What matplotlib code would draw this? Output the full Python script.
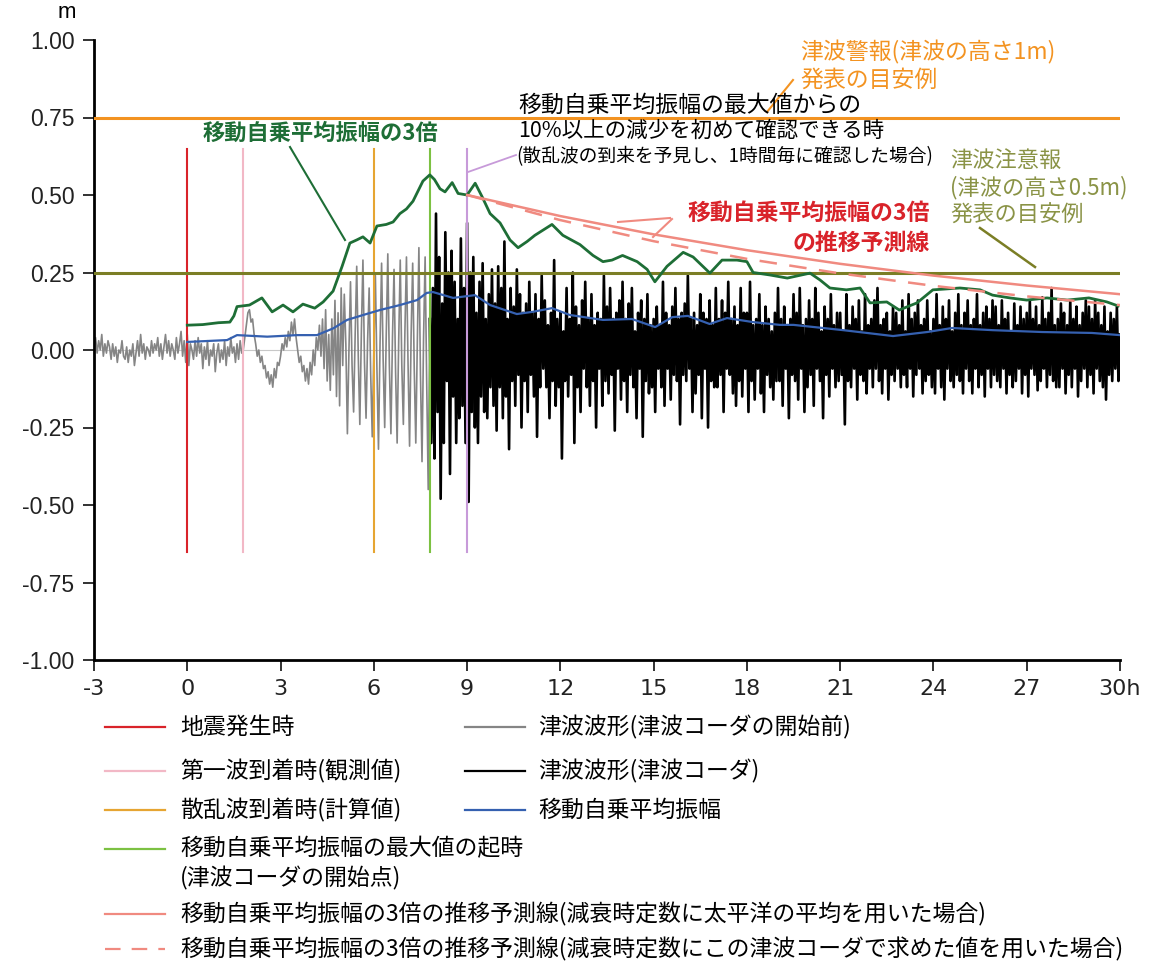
import numpy as np
import matplotlib
matplotlib.use("Agg")
import matplotlib.pyplot as plt
from matplotlib.lines import Line2D

plt.rcParams['font.family'] = ['Noto Sans CJK JP', 'DejaVu Sans']

# event times (h)
quake_t = 0.0
first_wave_t = 1.8
scatter_t = 6.0
max_t = 7.8
check_t = 9.0

# tsunami waveform before coda (every 0.05 h from -3 to 7.8)
gray_start, gray_step = -3.0, 0.05
gray_v = [
    0.02, 0.04, -0.01, 0.03, 0.0, 0.05, -0.02, 0.02, -0.01, 0.03, 0.01, -0.03, 0.02, -0.02, 0.01, -0.04, 0.0, -0.01, 0.03, -0.02,
    -0.03, 0.01, -0.04, 0.0, -0.02, 0.02, -0.05, -0.01, 0.03, -0.02, 0.05, -0.01, 0.02, -0.03, 0.01, 0.0, -0.02, 0.03, -0.01, 0.02,
    0.0, 0.04, -0.02, 0.02, -0.03, 0.01, 0.05, -0.01, 0.03, -0.02, 0.02, 0.0, -0.03, 0.04, -0.01, 0.02, 0.06, -0.02, 0.03, -0.04,
    0.05, -0.05, 0.02, 0.0, -0.03, 0.03, -0.02, 0.04, -0.01, 0.02, -0.06, 0.01, -0.03, 0.03, -0.05, 0.0, -0.02, 0.02, -0.07, -0.01,
    0.02, -0.04, 0.0, -0.03, 0.03, -0.05, 0.01, -0.02, 0.04, -0.01, 0.01, -0.04, 0.02, -0.03, 0.03, -0.01, 0.0, 0.04, 0.08, 0.12,
    0.13, 0.09, 0.1, 0.05, 0.02, -0.02, 0.0, -0.04, -0.02, -0.06, -0.05, -0.09, -0.07, -0.11, -0.08, -0.12, -0.06, -0.09, -0.04, -0.05,
    -0.02, 0.02, 0.0, 0.04, 0.01, 0.06, 0.03, 0.09, 0.05, 0.1, 0.04, 0.0, -0.04, -0.02, -0.07, -0.05, -0.1, -0.06, -0.11, -0.04,
    -0.08, 0.0, -0.05, 0.04, 0.0, 0.08, -0.02, 0.1, -0.06, 0.13, -0.1, 0.05, -0.13, 0.1, -0.08, 0.16, -0.15, 0.12, -0.18, 0.2,
    -0.05, 0.18, 0.02, -0.27, 0.0, 0.22, -0.05, -0.2, 0.05, 0.27, -0.02, -0.24, 0.06, 0.29, -0.04, -0.22, 0.03, 0.2, -0.08, -0.28,
    0.0, 0.24, -0.06, -0.32, 0.02, 0.28, -0.03, -0.25, 0.05, 0.31, -0.05, -0.27, 0.04, 0.26, -0.07, -0.3, 0.03, 0.29, -0.05, -0.24,
    0.06, 0.3, -0.04, -0.31, 0.05, 0.28, -0.06, -0.3, 0.03, 0.33, -0.08, -0.36, 0.04, 0.3, -0.1, -0.45, 0.1,
]

# tsunami coda waveform (every 0.05 h from 7.8 to 30)
black_start, black_step = 7.8, 0.05
black_v = [
    0.1, -0.3, 0.2, -0.35,
    0.44, -0.2, 0.3, -0.48, 0.15, -0.3, 0.38, -0.1, 0.25, -0.4, 0.32, -0.15, 0.22, -0.3, 0.1, -0.22, 0.36, -0.18, 0.2, -0.3,
    0.41, -0.49, 0.25, -0.2, 0.3, -0.25, 0.12, -0.3, 0.22, -0.15, 0.28, -0.2, 0.1, -0.22, 0.18, -0.12, 0.26, -0.18, 0.15, -0.26,
    0.27, -0.12, 0.2, -0.22, 0.35, -0.15, 0.1, -0.32, 0.2, -0.1, 0.14, -0.18, 0.26, -0.08, 0.18, -0.25, 0.12, -0.1, 0.15, -0.2,
    0.22, -0.08, 0.12, -0.15, 0.18, -0.28, 0.1, -0.12, 0.24, -0.06, 0.16, -0.12, 0.08, -0.22, 0.12, -0.1, 0.29, -0.18, 0.1, -0.12,
    0.12, -0.35, 0.06, -0.1, 0.2, -0.15, 0.1, -0.08, 0.25, -0.3, 0.14, -0.12, 0.08, -0.2, 0.16, -0.06, 0.22, -0.12, 0.1, -0.18,
    0.18, -0.1, 0.08, -0.25, 0.12, -0.06, 0.1, -0.18, 0.24, -0.1, 0.14, -0.14, 0.2, -0.08, 0.1, -0.26, 0.12, -0.06, 0.16, -0.16,
    0.22, -0.1, 0.1, -0.2, 0.15, -0.08, 0.2, -0.12, 0.06, -0.22, 0.12, -0.06, 0.16, -0.28, 0.1, -0.1, 0.18, -0.14, 0.08, -0.12,
    0.1, -0.2, 0.14, -0.06, 0.08, -0.12, 0.22, -0.18, 0.12, -0.06, 0.08, -0.16, 0.14, -0.08, 0.2, -0.1, 0.1, -0.24, 0.12, -0.08,
    0.15, -0.1, 0.24, -0.06, 0.1, -0.2, 0.12, -0.14, 0.08, -0.08, 0.18, -0.22, 0.12, -0.06, 0.1, -0.25, 0.16, -0.1, 0.08, -0.12,
    0.2, -0.12, 0.1, -0.08, 0.16, -0.2, 0.12, -0.06, 0.22, -0.08, 0.1, -0.14, 0.14, -0.18, 0.08, -0.1, 0.2, -0.15, 0.12, -0.06,
    0.12, -0.2, 0.22, -0.1, 0.08, -0.16, 0.1, -0.06, 0.18, -0.14, 0.08, -0.2, 0.14, -0.08, 0.1, -0.12, 0.06, -0.16, 0.12, -0.1,
    0.2, -0.1, 0.1, -0.18, 0.14, -0.06, 0.08, -0.22, 0.1, -0.08, 0.18, -0.1, 0.12, -0.16, 0.2, -0.06, 0.08, -0.2, 0.1, -0.12,
    0.16, -0.08, 0.1, -0.18, 0.2, -0.06, 0.12, -0.1, 0.06, -0.22, 0.14, -0.08, 0.1, -0.15, 0.18, -0.06, 0.08, -0.12, 0.12, -0.1,
    0.12, -0.08, 0.06, -0.24, 0.18, -0.1, 0.08, -0.12, 0.14, -0.06, 0.1, -0.16, 0.16, -0.08, 0.06, -0.1, 0.18, -0.14, 0.08, -0.06,
    0.1, -0.12, 0.16, -0.06, 0.2, -0.1, 0.08, -0.14, 0.1, -0.06, 0.12, -0.16, 0.06, -0.08, 0.14, -0.1, 0.12, -0.06, 0.08, -0.12,
    0.16, -0.08, 0.06, -0.12, 0.18, -0.06, 0.1, -0.15, 0.12, -0.08, 0.16, -0.06, 0.08, -0.14, 0.1, -0.1, 0.16, -0.08, 0.06, -0.12,
    0.1, -0.14, 0.18, -0.06, 0.08, -0.12, 0.14, -0.16, 0.1, -0.06, 0.16, -0.1, 0.06, -0.12, 0.12, -0.08, 0.18, -0.1, 0.08, -0.14,
    0.12, -0.06, 0.16, -0.1, 0.08, -0.14, 0.1, -0.06, 0.18, -0.12, 0.08, -0.08, 0.12, -0.15, 0.14, -0.06, 0.1, -0.12, 0.16, -0.08,
    0.14, -0.1, 0.08, -0.12, 0.16, -0.06, 0.1, -0.14, 0.12, -0.08, 0.06, -0.12, 0.15, -0.1, 0.08, -0.06, 0.14, -0.14, 0.1, -0.08,
    0.12, -0.15, 0.16, -0.06, 0.1, -0.08, 0.14, -0.13, 0.08, -0.1, 0.17, -0.06, 0.1, -0.12, 0.12, -0.08, 0.2, -0.1, 0.08, -0.12,
    0.1, -0.12, 0.15, -0.06, 0.12, -0.14, 0.08, -0.08, 0.16, -0.12, 0.1, -0.06, 0.14, -0.15, 0.08, -0.1, 0.12, -0.06, 0.16, -0.12,
    0.14, -0.08, 0.1, -0.14, 0.16, -0.06, 0.12, -0.1, 0.08, -0.12, 0.14, -0.16, 0.06, -0.08, 0.12, -0.1, 0.1, -0.06, 0.14, -0.1,
    0.05,
]

# moving root-mean-square amplitude
blue_t = [0.0, 1.28, 1.6, 2.57, 3.53, 4.17, 4.7, 5.14, 5.66, 6.2, 6.84, 7.39, 7.7, 7.9,
          8.55, 9.25, 9.74, 10.6, 11.1, 11.73, 12.3, 13.37, 14.3, 15.05, 15.6, 16.1, 16.8,
          17.36, 18.2, 19.06, 19.5, 21.1, 22.7, 23.8, 24.6, 25.9, 27.5, 29.1, 30.0]
blue_v = [0.026, 0.032, 0.048, 0.043, 0.048, 0.048, 0.07, 0.097, 0.113, 0.129, 0.145, 0.161, 0.184, 0.187,
          0.168, 0.177, 0.145, 0.116, 0.123, 0.135, 0.113, 0.097, 0.1, 0.074, 0.106, 0.11, 0.084,
          0.103, 0.09, 0.081, 0.081, 0.064, 0.045, 0.058, 0.071, 0.064, 0.058, 0.055, 0.048]

# 3x moving amplitude
green_t = [0.0, 0.5, 1.0, 1.37, 1.5, 1.6, 2.0, 2.4, 2.73, 3.08, 3.4, 3.72, 4.1, 4.37, 4.69, 4.98,
           5.23, 5.45, 5.65, 5.88, 6.1, 6.4, 6.62, 6.84, 7.05, 7.26, 7.58, 7.8, 7.95, 8.13, 8.29,
           8.52, 8.71, 9.0, 9.26, 9.48, 9.74, 10.06, 10.38, 10.64, 10.93, 11.18, 11.73, 12.08,
           12.63, 13.05, 13.37, 13.66, 14.0, 14.47, 14.79, 15.04, 15.43, 15.95, 16.27, 16.81,
           17.2, 17.68, 18.0, 18.2, 18.74, 19.3, 20.03, 20.35, 20.67, 21.2, 21.64, 21.96, 22.5,
           22.9, 23.47, 23.98, 24.85, 25.5, 25.9, 26.46, 27.0, 27.65, 28.3, 29.0, 29.58, 29.94]
green_v = [0.08, 0.082, 0.088, 0.09, 0.11, 0.14, 0.145, 0.168, 0.123, 0.145, 0.123, 0.148, 0.135, 0.155, 0.19, 0.27,
           0.345, 0.355, 0.365, 0.345, 0.40, 0.405, 0.413, 0.44, 0.455, 0.48, 0.545, 0.565, 0.55, 0.52, 0.51,
           0.54, 0.505, 0.50, 0.538, 0.495, 0.44, 0.41, 0.355, 0.33, 0.35, 0.37, 0.405, 0.37,
           0.34, 0.305, 0.285, 0.29, 0.305, 0.285, 0.26, 0.22, 0.27, 0.315, 0.30, 0.248,
           0.29, 0.29, 0.285, 0.25, 0.242, 0.232, 0.248, 0.226, 0.20, 0.194, 0.20, 0.152, 0.155,
           0.129, 0.152, 0.194, 0.2, 0.194, 0.177, 0.168, 0.161, 0.168, 0.161, 0.168, 0.155, 0.142]

# prediction lines
pred_t = [9, 12, 15, 18, 21, 24, 27, 30]
pred_pacific = [0.50, 0.432, 0.373, 0.322, 0.278, 0.24, 0.208, 0.18]
pred_coda = [0.50, 0.419, 0.351, 0.294, 0.247, 0.207, 0.173, 0.145]

warning_level = 0.75
advisory_level = 0.25

xticks = [-3, 0, 3, 6, 9, 12, 15, 18, 21, 24, 27, 30]
xticklabels = ['-3', '0', '3', '6', '9', '12', '15', '18', '21', '24', '27', '30h']
yticks = [-1.0, -0.75, -0.5, -0.25, 0.0, 0.25, 0.5, 0.75, 1.0]

c_red = '#d9232a'
c_pink = '#f2b8c6'
c_orange_v = '#e6a532'
c_green_v = '#7cc142'
c_purple = '#c79ad9'
c_gray = '#858585'
c_blue = '#3560b0'
c_green = '#1e6e36'
c_pred = '#f08a80'
c_orange = '#f39321'
c_olive = '#7b7e25'
c_olive_txt = '#8a9346'

W, H = 1153, 964
fig = plt.figure(figsize=(W / 100, H / 100), dpi=100)
ax = fig.add_axes([94 / W, 1 - 660 / H, (1120 - 94) / W, (660 - 40) / H])


def fx(x):
    return x / W


def fy(y):
    return 1 - y / H


gray_t = gray_start + gray_step * np.arange(len(gray_v))
black_t = black_start + black_step * np.arange(len(black_v))

ax.axhline(0, color='#c8c8c8', lw=0.8, zorder=1)
ax.plot(gray_t, gray_v, color=c_gray, lw=1.2, zorder=2)
ax.plot(black_t, black_v, color='black', lw=1.9, zorder=3)

for t, c in [(quake_t, c_red), (first_wave_t, c_pink), (scatter_t, c_orange_v),
             (max_t, c_green_v), (check_t, c_purple)]:
    ax.plot([t, t], [-0.65, 0.65], color=c, lw=1.5, zorder=4)

ax.axhline(warning_level, color=c_orange, lw=2.2, zorder=4)
ax.axhline(advisory_level, color=c_olive, lw=2.2, zorder=4)

ax.plot(blue_t, blue_v, color=c_blue, lw=1.6, zorder=5)
ax.plot(green_t, green_v, color=c_green, lw=2.0, zorder=6)
ax.plot(pred_t, pred_pacific, color=c_pred, lw=1.8, zorder=7)
ax.plot(pred_t, pred_coda, color=c_pred, lw=1.8, ls=(0, (7, 5)), zorder=7)

ax.set_xlim(-3, 30)
ax.set_ylim(-1, 1)
ax.set_xticks(xticks)
ax.set_xticklabels(xticklabels, family=['Liberation Sans Narrow', 'DejaVu Sans'], fontsize=16)
ax.set_yticks(yticks)
ax.set_yticklabels(['%.2f' % v for v in yticks], family=['Liberation Sans', 'DejaVu Sans'], fontsize=16.5)
ax.tick_params(axis='both', direction='out', length=8, width=1.3, colors='#222222', pad=6)
for s in ['top', 'right']:
    ax.spines[s].set_visible(False)
for s in ['left', 'bottom']:
    ax.spines[s].set_linewidth(2)
fig.text(fx(67), fy(12), 'm', fontsize=16, ha='center', va='center',
         family=['Liberation Sans', 'DejaVu Sans'])

# annotations
fig.text(fx(320), fy(133), '移動自乗平均振幅の3倍', fontsize=16, fontweight='bold',
         color=c_green, ha='center', va='center')
fig.add_artist(Line2D([fx(290), fx(345)], [fy(147), fy(240)], color=c_green, lw=1.5))

fig.text(fx(518), fy(105), '移動自乗平均振幅の最大値からの', fontsize=16.5, ha='left', va='center')
fig.text(fx(518), fy(131), '10%以上の減少を初めて確認できる時', fontsize=15.5, ha='left', va='center')
fig.text(fx(516), fy(157), '(散乱波の到来を予見し、1時間毎に確認した場合)', fontsize=13.5,
         ha='left', va='center')
fig.add_artist(Line2D([fx(468), fx(516)], [fy(172), fy(155)], color=c_purple, lw=1.3))

fig.text(fx(930), fy(213), '移動自乗平均振幅の3倍', fontsize=16.5, fontweight='bold',
         color=c_red, ha='right', va='center')
fig.text(fx(930), fy(243), 'の推移予測線', fontsize=16.5, fontweight='bold',
         color=c_red, ha='right', va='center')
fig.add_artist(Line2D([fx(618), fx(670)], [fy(222), fy(218)], color=c_pred, lw=1.5))
fig.add_artist(Line2D([fx(653), fx(672)], [fy(237), fy(219)], color=c_pred, lw=1.5))

fig.text(fx(800), fy(52), '津波警報(津波の高さ1m)', fontsize=16.5, color=c_orange, ha='left', va='center')
fig.text(fx(800), fy(80), '発表の目安例', fontsize=16.5, color=c_orange, ha='left', va='center')
fig.add_artist(Line2D([fx(767), fx(793)], [fy(112), fy(80)], color=c_orange, lw=1.5))

fig.text(fx(950), fy(160), '津波注意報', fontsize=16, color=c_olive_txt, ha='left', va='center')
fig.text(fx(950), fy(188), '(津波の高さ0.5m)', fontsize=16, color=c_olive_txt, ha='left', va='center')
fig.text(fx(950), fy(215), '発表の目安例', fontsize=16, color=c_olive_txt, ha='left', va='center')
fig.add_artist(Line2D([fx(980), fx(1035)], [fy(228), fy(267)], color=c_olive, lw=1.8))

# legend
legend_rows = [
    (105, 180, 727, c_red, '-', '地震発生時'),
    (105, 180, 771, c_pink, '-', '第一波到着時(観測値)'),
    (105, 180, 810, c_orange_v, '-', '散乱波到着時(計算値)'),
    (105, 180, 849, c_green_v, '-', '移動自乗平均振幅の最大値の起時'),
    (105, 180, 914, c_pred, '-', '移動自乗平均振幅の3倍の推移予測線(減衰時定数に太平洋の平均を用いた場合)'),
    (105, 180, 949, c_pred, (0, (7, 5)), '移動自乗平均振幅の3倍の推移予測線(減衰時定数にこの津波コーダで求めた値を用いた場合)'),
    (465, 538, 727, c_gray, '-', '津波波形(津波コーダの開始前)'),
    (465, 538, 771, 'black', '-', '津波波形(津波コーダ)'),
    (465, 538, 810, c_blue, '-', '移動自乗平均振幅'),
]
for x0, xt, y, c, ls, label in legend_rows:
    fig.add_artist(Line2D([fx(x0), fx(x0 + 60)], [fy(y), fy(y)], color=c, lw=1.6, ls=ls))
    fig.text(fx(xt), fy(y), label, fontsize=16.5, ha='left', va='center')
fig.text(fx(180), fy(878), '(津波コーダの開始点)', fontsize=16.5, ha='left', va='center')

fig.savefig('out.png', dpi=100)
